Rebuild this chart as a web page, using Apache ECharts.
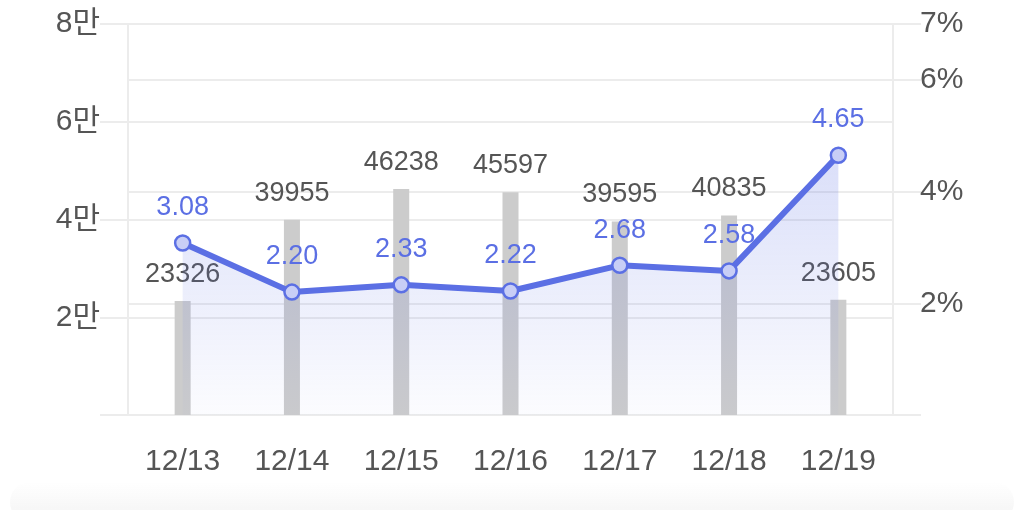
<!DOCTYPE html>
<html>
<head>
<meta charset="utf-8">
<script src="https://cdn.jsdelivr.net/npm/echarts@6/dist/echarts.min.js"></script>
<style>
  html, body { margin: 0; padding: 0; background: #ffffff; }
  #main { width: 1024px; height: 510px; }
</style>
</head>
<body>
<div id="main"></div>
<script>
var dates = ['12/13', '12/14', '12/15', '12/16', '12/17', '12/18', '12/19'];
var counts = [23326, 39955, 46238, 45597, 39595, 40835, 23605];
var rates = [3.08, 2.20, 2.33, 2.22, 2.68, 2.58, 4.65];

var font = '"Liberation Sans", "Noto Sans CJK KR", sans-serif';
var gridColor = '#ececec';
var textColor = '#555555';
var blue = '#5b6fe4';

var myChart = echarts.init(document.getElementById('main'));
var option = {
    animation: false,
    textStyle: { fontFamily: font },
    grid: { left: 128, right: 131, top: 24, bottom: 95 },
    graphic: [{
        type: 'rect',
        shape: { x: 10, y: 482, width: 1004, height: 40, r: 20 },
        style: {
            fill: new echarts.graphic.LinearGradient(0, 0, 0, 1, [
                { offset: 0, color: 'rgba(246,246,246,0)' },
                { offset: 0.6, color: 'rgba(246,246,246,0.8)' },
                { offset: 1, color: 'rgba(243,243,243,1)' }
            ])
        },
        z: -1
    }],
    xAxis: {
        type: 'category',
        data: dates,
        axisLine: { lineStyle: { color: gridColor, width: 2 } },
        axisTick: { show: false },
        axisLabel: { color: textColor, fontSize: 30, margin: 32, fontFamily: font }
    },
    yAxis: [{
        type: 'value',
        min: 0,
        max: 80000,
        interval: 20000,
        axisLine: { show: true, lineStyle: { color: gridColor, width: 2 } },
        axisTick: { show: true, length: 28, lineStyle: { color: gridColor, width: 2 } },
        splitLine: { lineStyle: { color: gridColor, width: 2 } },
        axisLabel: {
            color: textColor, fontSize: 30, margin: 28, fontFamily: font,
            formatter: function (v) { return v === 0 ? '' : (v / 10000) + '만'; }
        }
    }, {
        type: 'value',
        min: 0,
        max: 7,
        interval: 2,
        axisLine: { show: true, lineStyle: { color: gridColor, width: 2 } },
        axisTick: { show: true, length: 28, lineStyle: { color: gridColor, width: 2 } },
        splitLine: { lineStyle: { color: gridColor, width: 2 } },
        axisLabel: {
            color: textColor, fontSize: 30, margin: 27, fontFamily: font,
            formatter: function (v) { return v === 0 ? '' : v + '%'; }
        }
    }],
    series: [{
        type: 'bar',
        yAxisIndex: 0,
        data: counts,
        barWidth: 16,
        itemStyle: { color: '#cccccc' },
        label: {
            show: true,
            position: 'top',
            distance: 13,
            color: textColor,
            fontSize: 27,
            fontFamily: font
        },
        z: 2
    }, {
        type: 'line',
        yAxisIndex: 1,
        data: rates,
        symbol: 'circle',
        symbolSize: 15,
        lineStyle: { color: blue, width: 6 },
        itemStyle: { color: '#c8cef6', borderColor: blue, borderWidth: 2.5 },
        areaStyle: {
            color: new echarts.graphic.LinearGradient(0, 0, 0, 1, [
                { offset: 0, color: 'rgba(91,111,228,0.32)' },
                { offset: 1, color: 'rgba(91,111,228,0.03)' }
            ])
        },
        label: {
            show: true,
            position: 'top',
            distance: 13,
            color: blue,
            fontSize: 27,
            fontFamily: font,
            formatter: function (p) { return p.value.toFixed(2); }
        },
        z: 3
    }]
};
myChart.setOption(option);
</script>
</body>
</html>
